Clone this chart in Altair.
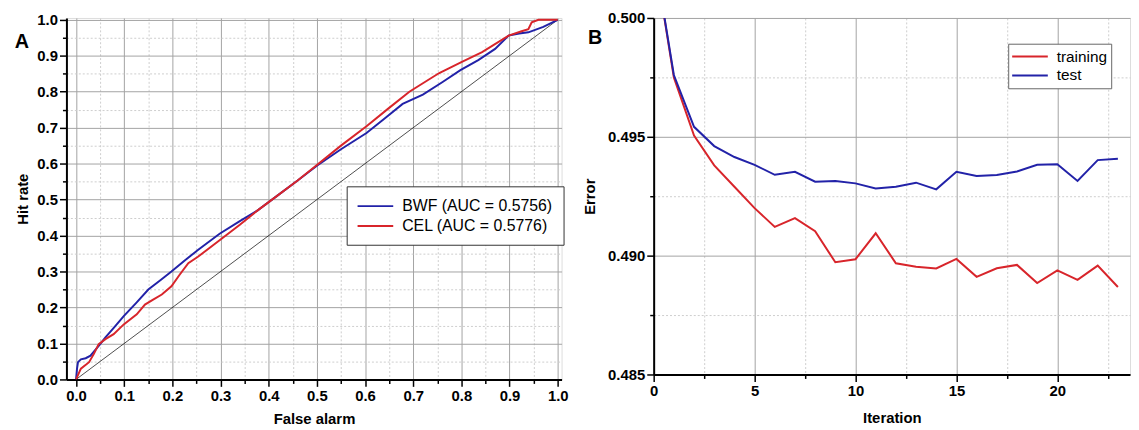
import altair as alt
import pandas as pd

# ---------------- Panel A data (ROC curves) ----------------
bwf_fa = [0, 0.002, 0.004, 0.01, 0.02, 0.03, 0.04, 0.05, 0.061, 0.08, 0.099, 0.125,
          0.15, 0.175, 0.198, 0.225, 0.253, 0.298, 0.34, 0.377, 0.418, 0.46, 0.5,
          0.55, 0.603, 0.64, 0.678, 0.72, 0.761, 0.798, 0.835, 0.87, 0.898, 0.92,
          0.939, 0.97, 1.0]
bwf_hit = [0, 0.03, 0.048, 0.056, 0.059, 0.066, 0.082, 0.098, 0.117, 0.146, 0.176, 0.213,
           0.25, 0.276, 0.30, 0.33, 0.36, 0.405, 0.44, 0.47, 0.511, 0.553, 0.594,
           0.64, 0.685, 0.725, 0.766, 0.792, 0.827, 0.86, 0.888, 0.919, 0.956, 0.962,
           0.965, 0.98, 1.0]
cel_fa = [0, 0.01, 0.027, 0.037, 0.047, 0.061, 0.078, 0.099, 0.126, 0.143, 0.16, 0.178,
          0.198, 0.215, 0.233, 0.253, 0.298, 0.34, 0.377, 0.418, 0.46, 0.5, 0.55,
          0.603, 0.65, 0.692, 0.754, 0.80, 0.843, 0.898, 0.925, 0.939, 0.946, 0.96, 1.0]
cel_hit = [0, 0.03, 0.048, 0.071, 0.098, 0.112, 0.126, 0.153, 0.181, 0.208, 0.222, 0.236,
           0.259, 0.291, 0.323, 0.341, 0.387, 0.43, 0.47, 0.511, 0.553, 0.596, 0.65,
           0.704, 0.755, 0.80, 0.852, 0.882, 0.91, 0.956, 0.968, 0.974, 0.993, 1.0, 1.0]
diag_x = [0, 1]
diag_y = [0, 1]
roc_series = ["BWF (AUC = 0.5756)", "CEL (AUC = 0.5776)"]

# ---------------- Panel B data (error per iteration) ----------------
iterations = list(range(24))
training = [0.5028, 0.4975, 0.49505, 0.4938, 0.4929, 0.4920, 0.49121, 0.49158, 0.49103,
            0.48972, 0.48985, 0.49094, 0.48968, 0.48953, 0.48946, 0.48986, 0.48911,
            0.48947, 0.48961, 0.48885, 0.48938, 0.48898, 0.48958, 0.48868]
test = [0.5028, 0.4976, 0.49542, 0.49461, 0.49415, 0.49382, 0.49340, 0.49353, 0.49311,
        0.49314, 0.49304, 0.49283, 0.49290, 0.49307, 0.49279, 0.49353, 0.49335,
        0.49339, 0.49354, 0.49382, 0.49385, 0.49314, 0.49402, 0.49408]
err_series = ["training", "test"]

# ---------------- tick positions ----------------
roc_ticks = [round(i * 0.05, 2) for i in range(21)]
iter_ticks = [i * 2.5 for i in range(10)]
err_ticks = [round(0.485 + i * 0.0025, 4) for i in range(7)]

BLUE = "#2222a8"
RED = "#d8252b"
FONT = "Liberation Sans"

roc_df = pd.concat([
    pd.DataFrame({"fa": bwf_fa, "hit": bwf_hit, "series": roc_series[0], "o": range(len(bwf_fa))}),
    pd.DataFrame({"fa": cel_fa, "hit": cel_hit, "series": roc_series[1], "o": range(len(cel_fa))}),
])
diag_df = pd.DataFrame({"fa": diag_x, "hit": diag_y, "o": [0, 1]})
err_df = pd.concat([
    pd.DataFrame({"it": iterations, "err": training, "series": "training"}),
    pd.DataFrame({"it": iterations, "err": test, "series": "test"}),
])


def axis(title, values, minor_test, fmt, title_pad):
    return alt.Axis(
        title=title, values=values,
        labelExpr=f"({minor_test}) ? '' : format(datum.value, '{fmt}')",
        labelOverlap=False, labelFlush=False,
        labelFont=FONT, labelFontSize=15, labelFontWeight="bold", labelColor="black",
        labelPadding=2,
        titleFont=FONT, titleFontSize=15, titleFontWeight="bold", titleColor="black",
        titlePadding=title_pad,
        domainColor="black", domainWidth=2,
        tickColor="black", tickWidth=1.5,
        tickSize={"condition": {"test": minor_test, "value": 4}, "value": 7},
        grid=True,
        gridColor={"condition": {"test": minor_test, "value": "#cdcdcd"}, "value": "#a3a3a3"},
        gridDash={"condition": {"test": minor_test, "value": [2, 2]}, "value": []},
        gridWidth=1,
    )


def legend(x, y, font_size, pad, row_pad, stroke):
    return alt.Legend(orient="none", legendX=x, legendY=y, title=None,
                      symbolType="M-2.25,0H2.25", symbolSize=256, symbolStrokeWidth=2,
                      symbolOffset=9, labelOffset=18,
                      labelFont=FONT, labelFontSize=font_size, labelColor="black",
                      strokeColor=stroke, fillColor="white", padding=pad,
                      rowPadding=row_pad)


roc_minor = "round(datum.value*100) % 10 != 0"
x_roc = alt.X("fa:Q", scale=alt.Scale(domain=[-0.02, 1.008], nice=False, zero=False),
              axis=axis("False alarm", roc_ticks, roc_minor, ".1f", 9))
y_roc = alt.Y("hit:Q", scale=alt.Scale(domain=[0, 1.005], nice=False),
              axis=axis("Hit rate", roc_ticks, roc_minor, ".1f", 6))

diag = alt.Chart(diag_df).mark_line(color="black", strokeWidth=0.7).encode(
    x=x_roc, y=y_roc, order="o:Q")
roc_lines = alt.Chart(roc_df).mark_line(strokeWidth=2, clip=True).encode(
    x=x_roc, y=y_roc, order="o:Q",
    color=alt.Color("series:N", scale=alt.Scale(domain=roc_series, range=[BLUE, RED]),
                    legend=legend(283, 170, 16, 11, 3, "#333333")),
)
label_a = alt.Chart(pd.DataFrame({"t": ["A"]})).mark_text(
    font=FONT, fontSize=20, fontWeight="bold", color="black", align="center", baseline="middle"
).encode(text="t:N", x=alt.value(-45), y=alt.value(24))

panel_a = alt.layer(diag, roc_lines, label_a).properties(width=500, height=365)

err_minor_x = "round(datum.value*10) % 50 != 0"
err_minor_y = "round(datum.value*10000) % 50 != 0"
x_err = alt.X("it:Q", scale=alt.Scale(domain=[0, 23.6], nice=False),
              axis=axis("Iteration", iter_ticks, err_minor_x, "d", 13))
y_err = alt.Y("err:Q", scale=alt.Scale(domain=[0.485, 0.5], nice=False, zero=False),
              axis=axis("Error", err_ticks, err_minor_y, ".3f", 10))

err_lines = alt.Chart(err_df).mark_line(strokeWidth=2, clip=True).encode(
    x=x_err, y=y_err,
    color=alt.Color("series:N", sort=err_series,
                    scale=alt.Scale(domain=err_series, range=[RED, BLUE]),
                    legend=legend(358, 26, 15.5, 4, 1, "#666666")),
)
label_b = alt.Chart(pd.DataFrame({"t": ["B"]})).mark_text(
    font=FONT, fontSize=20, fontWeight="bold", color="black", align="center", baseline="middle"
).encode(text="t:N", x=alt.value(-59), y=alt.value(20))

panel_b = alt.layer(err_lines, label_b).properties(width=481, height=360)

chart = alt.hconcat(panel_a, panel_b, spacing=12).resolve_scale(
    color="independent").resolve_legend(color="independent").properties(
    padding={"left": 6, "top": 0, "right": 0, "bottom": 0}
).configure_view(stroke=None).configure(background="white")

chart.save("out.html", embed_options={"renderer": "svg", "actions": False})
